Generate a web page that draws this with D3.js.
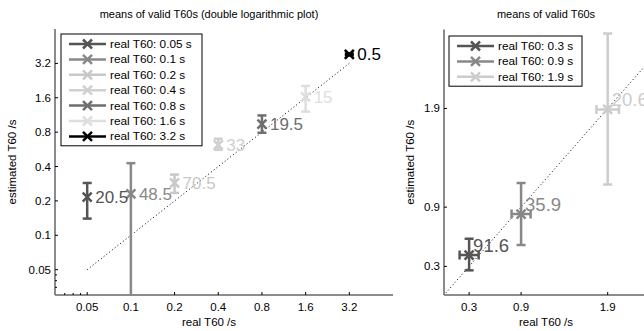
<!DOCTYPE html>
<html>
<head>
<meta charset="utf-8">
<script src="https://cdn.jsdelivr.net/npm/d3@7"></script>
<style>
  body { margin: 0; background: #fff; }
  svg text { font-family: "Liberation Sans", Arial, sans-serif; }
</style>
</head>
<body>
<div id="main"></div>
<script>
// left panel: double log plot
var leftReal = [0.05, 0.1, 0.2, 0.4, 0.8, 1.6, 3.2];
var leftEst  = [0.216, 0.23, 0.287, 0.62, 0.94, 1.63, 3.83];
var leftLo   = [0.14, 0.02, 0.235, 0.56, 0.79, 1.21, 3.76];
var leftHi   = [0.287, 0.428, 0.34, 0.70, 1.12, 2.03, 3.9];
var leftPct  = ["20.5", "48.5", "70.5", "33", "19.5", "15", "0.5"];
var leftColors = ["#555555", "#888888", "#c8c8c8", "#d0d0d0", "#6e6e6e", "#dedede", "#000000"];
var leftTicks = [0.05, 0.1, 0.2, 0.4, 0.8, 1.6, 3.2];
var leftMinor = [0.035, 0.04, 0.045];

// right panel: linear plot
var rightReal = [0.3, 0.9, 1.9];
var rightEst  = [0.415, 0.83, 1.89];
var rightLo   = [0.26, 0.517, 1.13];
var rightHi   = [0.58, 1.145, 2.66];
var rightXErr = [0.11, 0.11, 0.13];
var rightPct  = ["91.6", "35.9", "20.6"];
var rightColors = ["#555555", "#888888", "#cccccc"];
var rightTicks = [0.3, 0.9, 1.9];

var W = 644, H = 331;
var svg = d3.select("#main").append("svg").attr("width", W).attr("height", H);

var drawCross = function(g, x, y, r, color, w) {
    g.append("path")
     .attr("d", "M" + (x - r) + "," + (y - r) + "L" + (x + r) + "," + (y + r) +
                "M" + (x - r) + "," + (y + r) + "L" + (x + r) + "," + (y - r))
     .attr("stroke", color).attr("stroke-width", w).attr("fill", "none");
};

var drawPanel = function(opt) {
    var x = opt.x, y = opt.y;
    var g = svg.append("g");
    var r = x.range(), t = y.range();
    var clipId = "clip" + opt.id;
    svg.append("clipPath").attr("id", clipId).append("rect")
       .attr("x", r[0]).attr("y", t[1]).attr("width", r[1] - r[0]).attr("height", t[0] - t[1]);

    // title and labels
    svg.append("text").attr("x", opt.titleX).attr("y", 18).attr("text-anchor", "middle")
       .style("font-size", "11px").text(opt.title);
    svg.append("text").attr("x", opt.titleX).attr("y", 326).attr("text-anchor", "middle")
       .style("font-size", "11.5px").text("real T60 /s");
    svg.append("text").attr("transform", "translate(" + opt.ylabX + "," + ((t[0] + t[1]) / 2) + ")rotate(-90)")
       .attr("text-anchor", "middle").style("font-size", "11.5px").text("estimated T60 /s");

    // axes lines
    g.append("line").attr("x1", r[0]).attr("x2", r[1]).attr("y1", t[0]).attr("y2", t[0])
     .attr("stroke", "#666").attr("stroke-width", 1.5);
    g.append("line").attr("x1", r[0]).attr("x2", r[0]).attr("y1", t[0]).attr("y2", t[1])
     .attr("stroke", "#666").attr("stroke-width", 1.5);
    // ticks
    opt.ticks.forEach(function(v) {
        g.append("line").attr("x1", x(v)).attr("x2", x(v)).attr("y1", t[0]).attr("y2", t[0] - 3)
         .attr("stroke", "#000");
        g.append("text").attr("x", x(v)).attr("y", t[0] + 16).attr("text-anchor", "middle")
         .style("font-size", "11.5px").text(v);
        g.append("line").attr("x1", r[0]).attr("x2", r[0] + 3).attr("y1", y(v)).attr("y2", y(v))
         .attr("stroke", "#000");
        g.append("text").attr("x", r[0] - 4).attr("y", y(v) + 4).attr("text-anchor", "end")
         .style("font-size", "11.5px").text(v);
    });
    opt.minor.forEach(function(v) {
        g.append("line").attr("x1", x(v)).attr("x2", x(v)).attr("y1", t[0]).attr("y2", t[0] - 2)
         .attr("stroke", "#000");
        g.append("line").attr("x1", r[0]).attr("x2", r[0] + 2).attr("y1", y(v)).attr("y2", y(v))
         .attr("stroke", "#000");
    });

    var pg = g.append("g").attr("clip-path", "url(#" + clipId + ")");
    // dotted diagonal y = x
    pg.append("line").attr("x1", x(opt.diag[0])).attr("y1", y(opt.diag[0]))
      .attr("x2", x(opt.diag[1])).attr("y2", y(opt.diag[1]))
      .attr("stroke", "#000").attr("stroke-width", 1).attr("stroke-dasharray", "1,2.5");

    // error bars, markers and labels
    opt.real.forEach(function(rv, i) {
        var c = opt.colors[i], px = x(rv), py = y(opt.est[i]);
        pg.append("line").attr("x1", px).attr("x2", px).attr("y1", y(opt.lo[i])).attr("y2", y(opt.hi[i]))
          .attr("stroke", c).attr("stroke-width", 2.5);
        [opt.lo[i], opt.hi[i]].forEach(function(v) {
            pg.append("line").attr("x1", px - 4.5).attr("x2", px + 4.5).attr("y1", y(v)).attr("y2", y(v))
              .attr("stroke", c).attr("stroke-width", 2.5);
        });
        if (opt.xerr) {
            var xa = x(rv - opt.xerr[i]), xb = x(rv + opt.xerr[i]);
            pg.append("line").attr("x1", xa).attr("x2", xb).attr("y1", py).attr("y2", py)
              .attr("stroke", c).attr("stroke-width", 2.5);
            [xa, xb].forEach(function(xx) {
                pg.append("line").attr("x1", xx).attr("x2", xx).attr("y1", py - 4.5).attr("y2", py + 4.5)
                  .attr("stroke", c).attr("stroke-width", 2.5);
            });
        }
        drawCross(pg, px, py, 4.5, c, 2.5);
        g.append("text").attr("x", px + opt.labDx).attr("y", py + opt.labDy).attr("fill", c)
         .style("font-size", opt.labSize).text(opt.pct[i]);
    });

    // legend
    var lg = g.append("g");
    lg.append("rect").attr("x", opt.leg[0]).attr("y", opt.leg[1]).attr("width", opt.leg[2])
      .attr("height", opt.real.length * 15.4 + 4).attr("fill", "#fff").attr("stroke", "#000");
    opt.real.forEach(function(rv, i) {
        var ly = opt.leg[1] + 10 + i * 15.4, lx = opt.leg[0] + 8;
        lg.append("line").attr("x1", lx).attr("x2", lx + 37).attr("y1", ly).attr("y2", ly)
          .attr("stroke", opt.colors[i]).attr("stroke-width", 2.5);
        drawCross(lg, lx + 18.5, ly, 4.5, opt.colors[i], 2.5);
        lg.append("text").attr("x", lx + 41).attr("y", ly + 4).style("font-size", "11.8px")
          .text("real T60: " + rv + " s");
    });
};

drawPanel({
    id: "L",
    x: d3.scaleLog().domain([0.03, 6.4]).range([55, 393]),
    y: d3.scaleLog().domain([0.03, 6.4]).range([295, 29]),
    title: "means of valid T60s (double logarithmic plot)", titleX: 209, ylabX: 16,
    ticks: leftTicks, minor: leftMinor, diag: [0.05, 3.2],
    real: leftReal, est: leftEst, lo: leftLo, hi: leftHi, pct: leftPct, colors: leftColors,
    labDx: 8, labDy: 6, labSize: "17px", leg: [61, 34, 141]
});

drawPanel({
    id: "R",
    x: d3.scaleLinear().domain([0.01, 2.4]).range([444, 651]),
    y: d3.scaleLinear().domain([0.01, 2.7]).range([295, 29.5]),
    title: "means of valid T60s", titleX: 546, ylabX: 414,
    ticks: rightTicks, minor: [], diag: [0.03, 2.7],
    real: rightReal, est: rightEst, lo: rightLo, hi: rightHi, xerr: rightXErr, pct: rightPct,
    colors: rightColors, labDx: 4, labDy: -3, labSize: "18.5px", leg: [449, 36, 133]
});
</script>
</body>
</html>
